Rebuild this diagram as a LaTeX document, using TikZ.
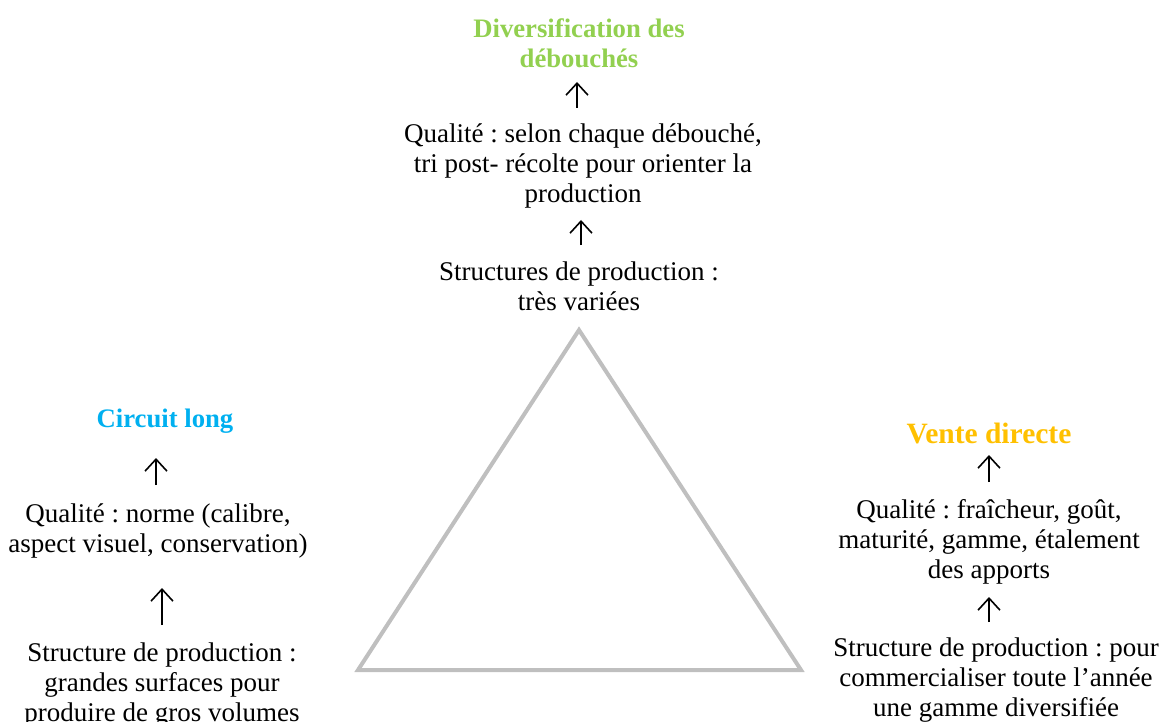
\documentclass[tikz,border=0pt]{standalone}
\usepackage{fontspec}
\setmainfont{Liberation Serif}
\usetikzlibrary{arrows.meta}
\definecolor{tgreen}{HTML}{92D050}
\definecolor{tblue}{HTML}{00B0F0}
\definecolor{torange}{HTML}{FFC000}
\definecolor{tgray}{HTML}{BFBFBF}
\begin{document}
\frenchspacing
\begin{tikzpicture}[x=1pt,y=-1pt,
  txt/.style={align=center,inner sep=0pt,font=\fontsize{27}{30}\selectfont},
  ttl/.style={align=center,inner sep=0pt,font=\fontsize{26.7}{30}\selectfont\bfseries},
  arr/.style={-{Straight Barb[length=12pt,width=22pt]},line width=1.6pt}]
\useasboundingbox (0,0) rectangle (1159,722);
% triangle
\draw[tgray,line width=4pt,line join=miter] (579,330) -- (801,670) -- (358,670) -- cycle;
% top
\node[ttl,text=tgreen] (T1) at (579,43) {Diversification des\\débouchés};
\node[txt] (T2) at (583,166) {Qualité : selon chaque débouché,\\tri post- récolte pour orienter la\\production};
\node[txt] (T3) at (579,286) {Structures de production :\\très variées};
% left
\node[ttl,text=tblue] (L1) at (165,421) {Circuit long};
\node[txt] (L2) at (158,531) {Qualité : norme (calibre,\\aspect visuel, conservation)};
\node[txt] (L3) at (162,685) {Structure de production :\\grandes surfaces pour\\produire de gros volumes};
% right
\node[ttl,text=torange,font=\fontsize{29.5}{33}\selectfont\bfseries] (R1) at (989,433) {Vente directe};
\node[txt] (R2) at (989,542) {Qualité : fraîcheur, goût,\\maturité, gamme, étalement\\des apports};
\node[txt] (R3) at (996,680) {Structure de production : pour\\commercialiser toute l’année\\une gamme diversifiée};
% arrows
\coordinate (a1s) at (577,108); \coordinate (a1e) at (577,82);
\coordinate (a2s) at (581,245); \coordinate (a2e) at (581,220);
\coordinate (a3s) at (156,485); \coordinate (a3e) at (156,458);
\coordinate (a4s) at (162,625); \coordinate (a4e) at (162,588);
\coordinate (a5s) at (989,482); \coordinate (a5e) at (989,455);
\coordinate (a6s) at (989,622); \coordinate (a6e) at (989,597);
\draw[arr] (a1s) -- (a1e);
\draw[arr] (a2s) -- (a2e);
\draw[arr] (a3s) -- (a3e);
\draw[arr] (a4s) -- (a4e);
\draw[arr] (a5s) -- (a5e);
\draw[arr] (a6s) -- (a6e);
\end{tikzpicture}
\end{document}
